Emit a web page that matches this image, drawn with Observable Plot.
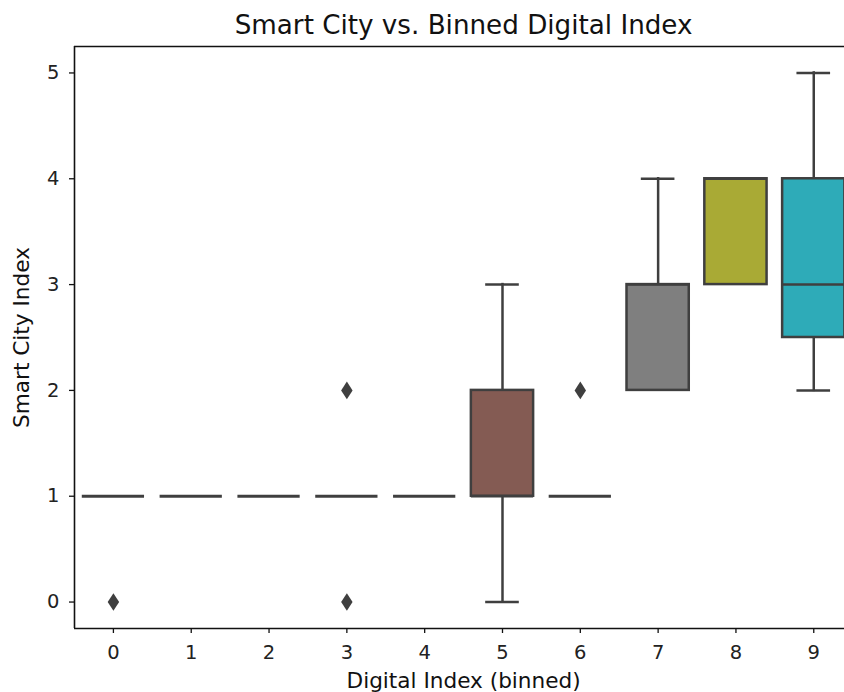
<!DOCTYPE html>
<html><head><meta charset="utf-8">
<script src="https://cdn.jsdelivr.net/npm/d3@7"></script>
<script src="https://cdn.jsdelivr.net/npm/@observablehq/plot@0.6"></script>
<style>html,body{margin:0;padding:0;background:#fff;overflow:hidden}</style>
</head><body><div id="chart"></div>
<script>
const categories = [0, 1, 2, 3, 4, 5, 6, 7, 8, 9];
const q1 =          [1, 1, 1, 1, 1, 1, 1, 2, 3, 2.5];
const median =      [1, 1, 1, 1, 1, 1, 1, 3, 4, 3];
const q3 =          [1, 1, 1, 1, 1, 2, 1, 3, 4, 4];
const whiskerLow =  [1, 1, 1, 1, 1, 0, 1, 2, 3, 2];
const whiskerHigh = [1, 1, 1, 1, 1, 3, 1, 4, 4, 5];
const colors = ["#3274a1", "#e1812c", "#3a923a", "#c03d3e", "#9372b2", "#845b53", "#d684bd", "#7f7f7f", "#a9aa35", "#2eabb8"];
const outlierCategory = [0, 3, 3, 6];
const outlierValue =    [0, 0, 2, 2];
const yTicks = [0, 1, 2, 3, 4, 5];
const titleText = "Smart City vs. Binned Digital Index";
const xLabel = "Digital Index (binned)";
const yLabel = "Smart City Index";

const boxes = categories.map((c, i) => ({c, q1: q1[i], med: median[i], q3: q3[i], lo: whiskerLow[i], hi: whiskerHigh[i], color: colors[i]}));
const outliers = outlierCategory.map((c, i) => ({c, v: outlierValue[i]}));

const thinDiamond = {
  draw(ctx, size) {
    const h = Math.sqrt(size / Math.PI), w = h * 0.65;
    ctx.moveTo(0, -h); ctx.lineTo(w, 0); ctx.lineTo(0, h); ctx.lineTo(-w, 0); ctx.closePath();
  }
};

const lineColor = "#3f3f3f";
const lw = 2.5;
const halfBox = 0.4, halfCap = 0.2;
const upper = boxes.filter(d => d.hi > d.q3);
const lower = boxes.filter(d => d.lo < d.q1);

const chart = Plot.plot({
  width: 844, height: 692,
  marginLeft: 74, marginRight: 0, marginTop: 46, marginBottom: 64,
  style: {fontFamily: "DejaVu Sans", fontSize: "19.5px", color: "#222", background: "#fff"},
  x: {domain: [-0.5, 9.395], label: null},
  y: {domain: [-0.25, 5.25], label: null},
  color: {type: "identity"},
  marks: [
    Plot.ruleX(upper, {x: "c", y1: "q3", y2: "hi", stroke: lineColor, strokeWidth: lw, strokeLinecap: "square"}),
    Plot.ruleX(lower, {x: "c", y1: "lo", y2: "q1", stroke: lineColor, strokeWidth: lw, strokeLinecap: "square"}),
    Plot.rect(boxes, {x1: d => d.c - halfBox, x2: d => d.c + halfBox, y1: "q1", y2: "q3", fill: "color", stroke: lineColor, strokeWidth: lw}),
    Plot.ruleY(boxes, {y: "med", x1: d => d.c - halfBox, x2: d => d.c + halfBox, stroke: lineColor, strokeWidth: d => d.q1 === d.q3 ? 3.2 : lw}),
    Plot.ruleY(upper, {y: "hi", x1: d => d.c - halfCap, x2: d => d.c + halfCap, stroke: lineColor, strokeWidth: lw, strokeLinecap: "square"}),
    Plot.ruleY(lower, {y: "lo", x1: d => d.c - halfCap, x2: d => d.c + halfCap, stroke: lineColor, strokeWidth: lw, strokeLinecap: "square"}),
    Plot.dot(outliers, {x: "c", y: "v", symbol: thinDiamond, r: 8.8, fill: lineColor, stroke: "none"}),
    Plot.ruleX([-0.5], {stroke: "#111", strokeWidth: 1.6}),
    Plot.ruleY([5.25, -0.25], {stroke: "#111", strokeWidth: 1.6}),
    Plot.axisX({ticks: categories, tickFormat: d => String(d), tickSize: 5, tickPadding: 12, label: null, stroke: "#111", strokeWidth: 1.3}),
    Plot.axisY({ticks: yTicks, tickFormat: d => String(d), tickSize: 5, tickPadding: 10, label: null, stroke: "#111", strokeWidth: 1.3}),
    Plot.text([titleText], {x: 4.5, frameAnchor: "top", dy: -31, lineAnchor: "top", textAnchor: "middle", fontSize: 26.2, fill: "#111"}),
    Plot.text([xLabel], {x: 4.5, frameAnchor: "bottom", dy: 44, lineAnchor: "top", textAnchor: "middle", fontSize: 21.6, fill: "#111"}),
    Plot.text([yLabel], {y: 2.5, frameAnchor: "left", dx: -61, rotate: -90, lineAnchor: "top", textAnchor: "middle", fontSize: 21.6, fill: "#111"})
  ]
});
document.getElementById("chart").appendChild(chart);
</script>
</body></html>
